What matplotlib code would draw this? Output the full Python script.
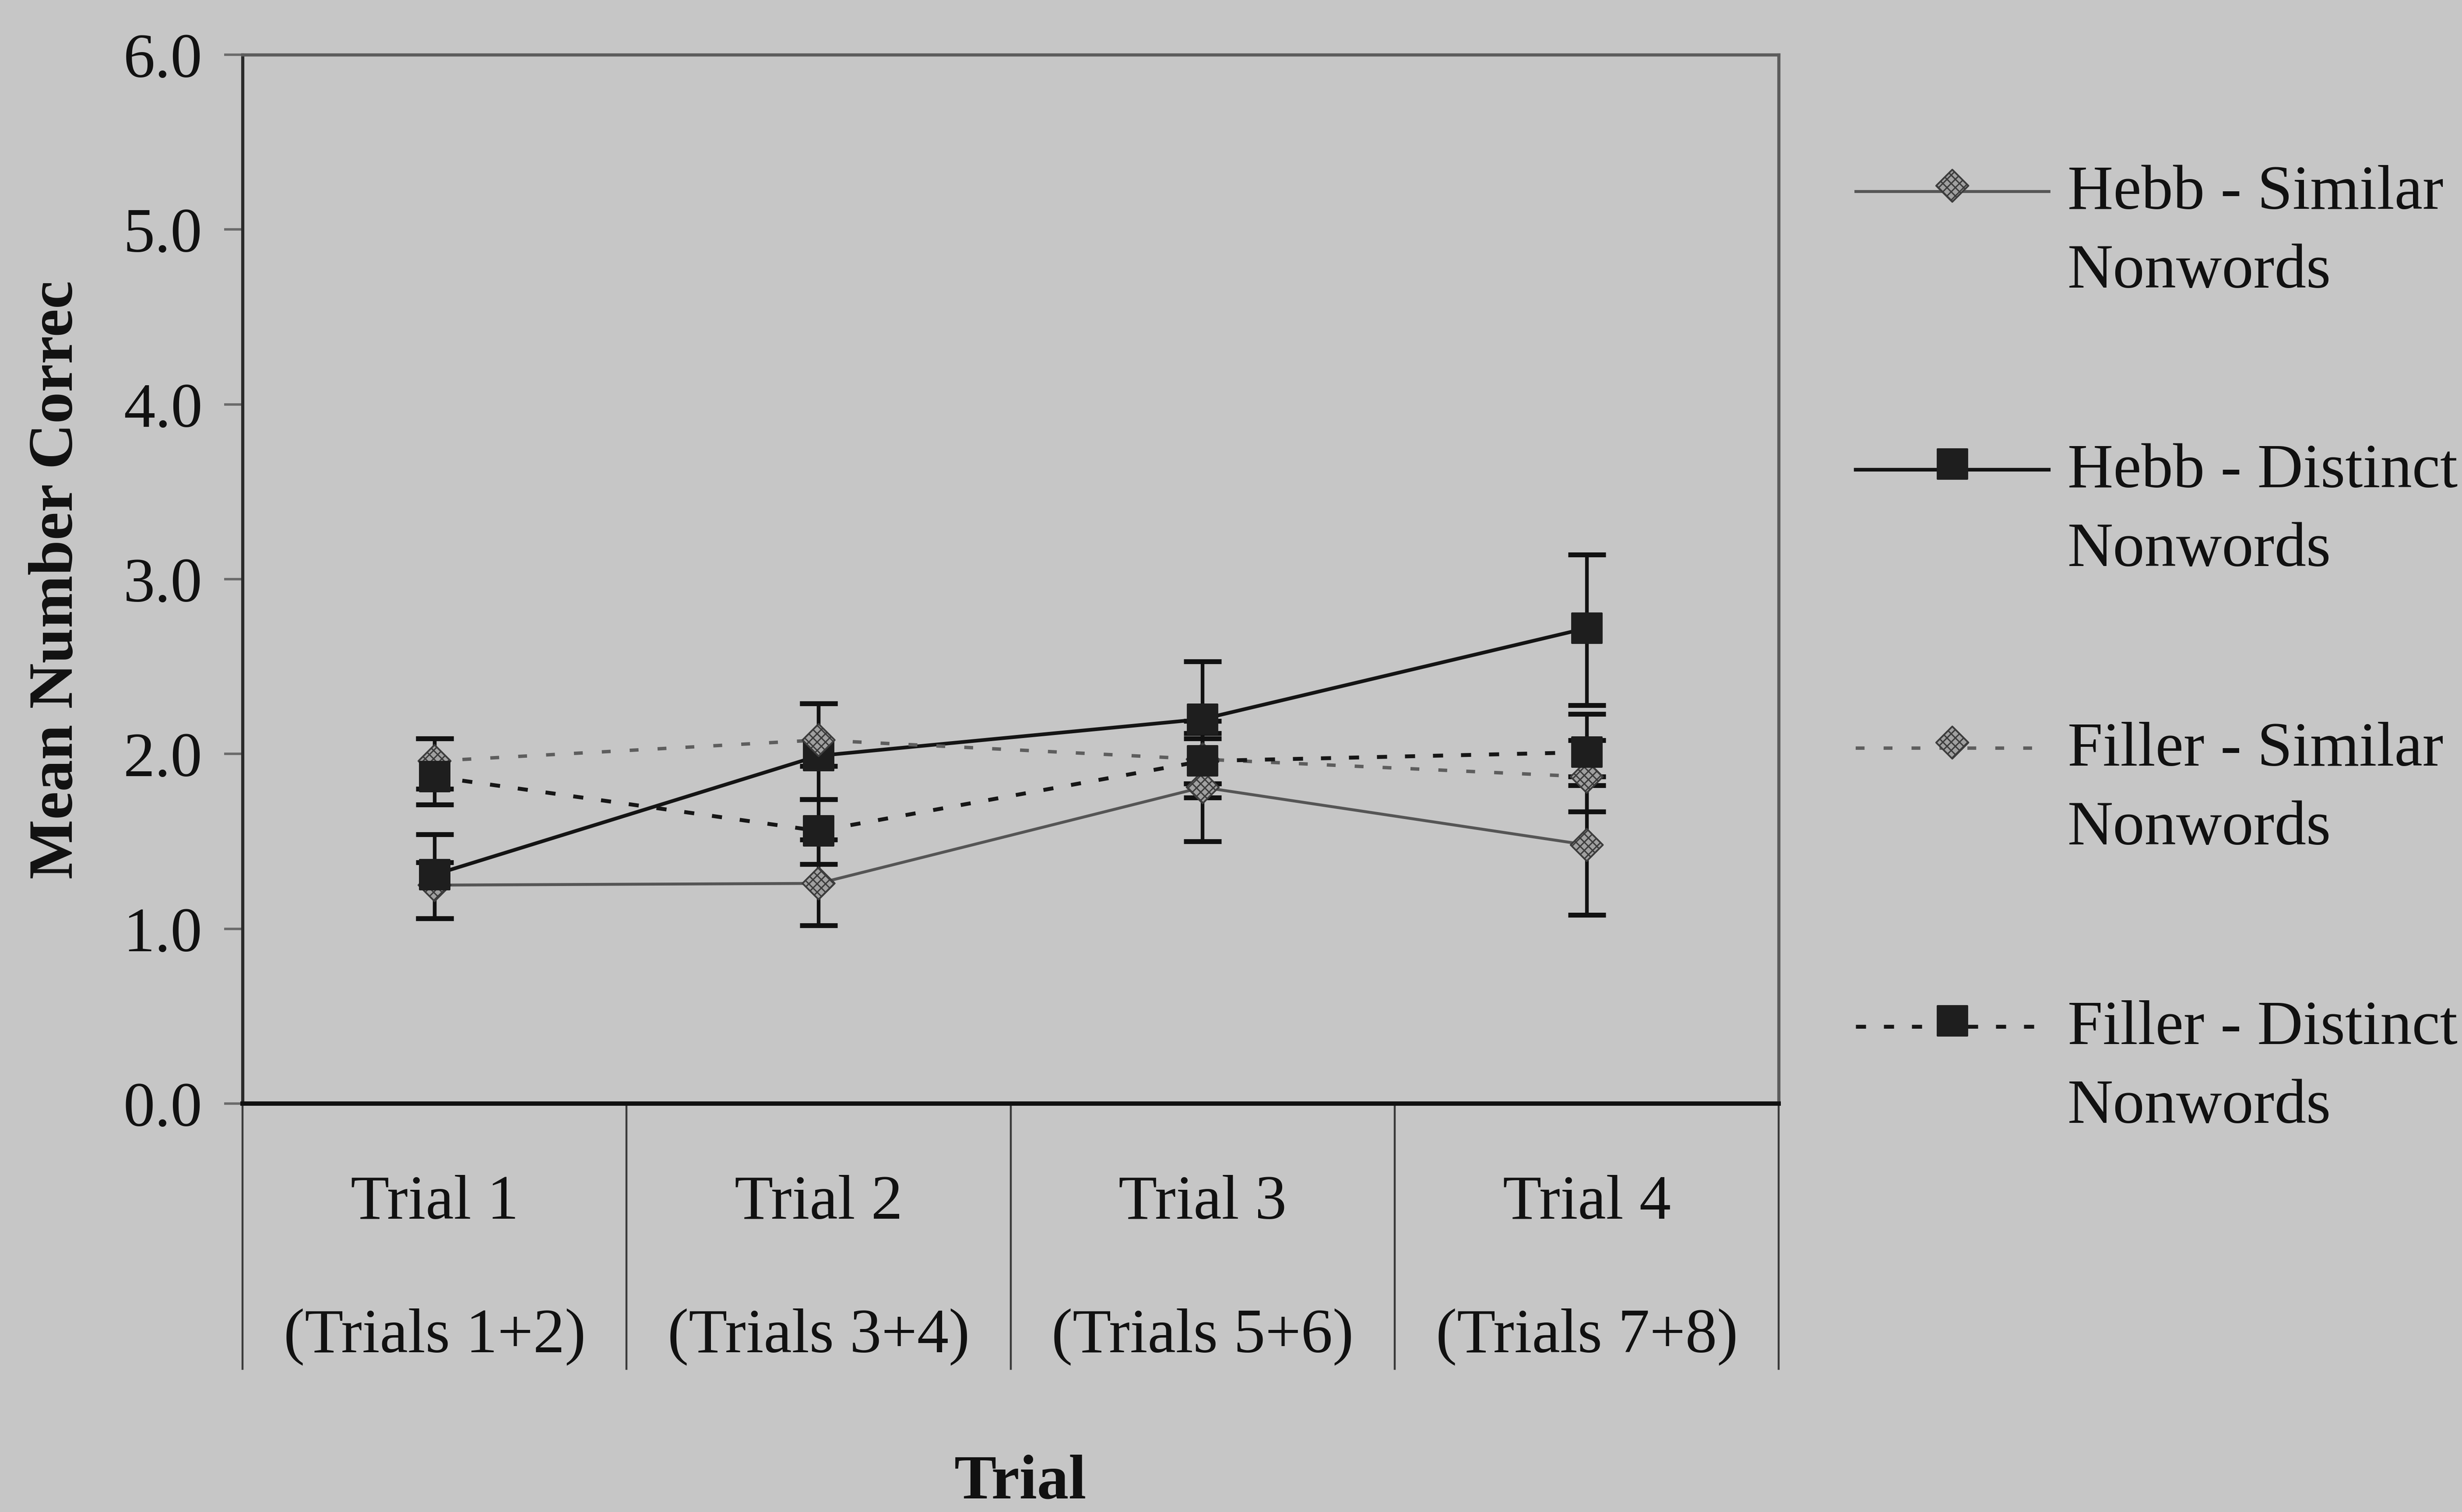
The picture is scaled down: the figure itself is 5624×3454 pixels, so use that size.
import numpy as np
import matplotlib
matplotlib.use("Agg")
import matplotlib.pyplot as plt
from matplotlib.legend_handler import HandlerTuple
from matplotlib.transforms import blended_transform_factory

# ---- data -------------------------------------------------------------
trials = ["Trial 1", "Trial 2", "Trial 3", "Trial 4"]
trial_pairs = ["(Trials 1+2)", "(Trials 3+4)", "(Trials 5+6)", "(Trials 7+8)"]

series_names = ["Hebb - Similar\nNonwords", "Hebb - Distinct\nNonwords",
                "Filler - Similar\nNonwords", "Filler - Distinct\nNonwords"]

hebb_similar = [1.25, 1.26, 1.81, 1.48]
hebb_similar_low = [1.06, 1.02, 1.50, 1.08]
hebb_similar_high = [1.38, 1.51, 2.12, 1.87]

hebb_distinct = [1.31, 1.99, 2.20, 2.72]
hebb_distinct_low = [1.06, 1.74, 1.83, 2.28]
hebb_distinct_high = [1.54, 2.29, 2.53, 3.14]

filler_similar = [1.96, 2.08, 1.97, 1.87]
filler_similar_low = [1.80, 1.93, 1.75, 1.67]
filler_similar_high = [2.09, 2.29, 2.19, 2.08]

filler_distinct = [1.87, 1.56, 1.96, 2.01]
filler_distinct_low = [1.71, 1.37, 1.83, 1.82]
filler_distinct_high = [2.09, 1.74, 2.09, 2.23]

y_ticks = [0.0, 1.0, 2.0, 3.0, 4.0, 5.0, 6.0]

# ---- style ------------------------------------------------------------
BG = "#c6c6c6"
FONT = "Liberation Serif"
FS = 26
plt.rcParams["font.family"] = [FONT, "DejaVu Serif"]
plt.rcParams["hatch.linewidth"] = 0.55

styles = [
    dict(color="#555555", lw=1.2, ls="-", marker="D", face="#a0a0a0",
         edge="#3c3c3c", hatch="xxxxxxx", size=88),
    dict(color="#141414", lw=1.5, ls="-", marker="s", face="#1e1e1e",
         edge="#1e1e1e", hatch=None, size=150),
    dict(color="#5e5e5e", lw=1.4, ls=(0, (2.6, 5.6)), marker="D", face="#a0a0a0",
         edge="#3c3c3c", hatch="xxxxxxx", size=88),
    dict(color="#161616", lw=1.6, ls=(0, (2.6, 4.6)), marker="s", face="#1e1e1e",
         edge="#1e1e1e", hatch=None, size=150),
]

means = [hebb_similar, hebb_distinct, filler_similar, filler_distinct]
lows = [hebb_similar_low, hebb_distinct_low, filler_similar_low, filler_distinct_low]
highs = [hebb_similar_high, hebb_distinct_high, filler_similar_high, filler_distinct_high]

fig = plt.figure(figsize=(5624 / 400, 3455 / 400), dpi=400, facecolor=BG)
ax = fig.add_axes([0.0985, 0.270, 0.624, 0.6935])
ax.set_facecolor(BG)

x = np.arange(len(trials))

handles = []
for m, lo, hi, st in zip(means, lows, highs, styles):
    m = np.asarray(m)
    yerr = np.vstack([m - np.asarray(lo), np.asarray(hi) - m])
    ax.errorbar(x, m, yerr=yerr, fmt="none", ecolor="#111111",
                elinewidth=1.5, capsize=7.7, capthick=2.0, zorder=2)
    ln, = ax.plot(x, m, color=st["color"], lw=st["lw"], ls=st["ls"], zorder=3)
    sc = ax.scatter(x, m, s=st["size"], marker=st["marker"], facecolor=st["face"],
                    edgecolor=st["edge"], linewidths=0.7, hatch=st["hatch"], zorder=4)
    handles.append((ln, sc))

ax.set_xlim(-0.5, len(trials) - 0.5)
ax.set_ylim(y_ticks[0], y_ticks[-1])
ax.set_yticks(y_ticks)
ax.set_yticklabels([f"{v:.1f}" for v in y_ticks])
ax.set_xticks([])
ax.tick_params(axis="y", direction="out", length=7.5, width=1.0, color="#6a6a6a",
               labelsize=FS, pad=9, labelcolor="#111111")

for side in ("top", "right"):
    ax.spines[side].set_color("#5c5c5c")
    ax.spines[side].set_linewidth(1.3)
ax.spines["left"].set_color("#2a2a2a")
ax.spines["left"].set_linewidth(1.3)
ax.spines["bottom"].set_color("#111111")
ax.spines["bottom"].set_linewidth(1.8)

# category table under the axis
trans = blended_transform_factory(ax.transData, ax.transAxes)
for xb in np.arange(len(trials) + 1) - 0.5:
    ax.plot([xb, xb], [0, -0.253], transform=trans, clip_on=False,
            color="#3a3a3a", lw=0.8, zorder=1)
for xi, t1, t2 in zip(x, trials, trial_pairs):
    ax.text(xi, -0.095, t1, transform=trans, ha="center", va="center",
            fontsize=FS, color="#111111")
    ax.text(xi, -0.222, t2, transform=trans, ha="center", va="center",
            fontsize=FS, color="#111111")

ax.set_ylabel("Mean Number Correc", fontsize=FS, fontweight="bold", color="#111111")
ax.yaxis.label.set_verticalalignment("center")
ax.yaxis.set_label_coords(-0.1206, 0.5)
fig.text(0.4145, 0.0195, "Trial", ha="center", va="center", fontsize=FS,
         fontweight="bold", color="#111111")

leg = fig.legend(handles, series_names, loc="upper left",
                 bbox_to_anchor=(0.7538, 0.891), frameon=False, fontsize=FS,
                 handler_map={tuple: HandlerTuple(ndivide=1, pad=0)},
                 handlelength=3.05, handletextpad=0.3, handleheight=1.2,
                 labelspacing=2.25, borderpad=0, borderaxespad=0,
                 scatteryoffsets=[0.5])
for t in leg.get_texts():
    t.set_linespacing(1.49)
    t.set_color("#111111")
for col in leg._legend_handle_box.get_children():
    for item in col.get_children():
        item.align = "top"

fig.savefig("out.png", dpi=400, facecolor=BG)
